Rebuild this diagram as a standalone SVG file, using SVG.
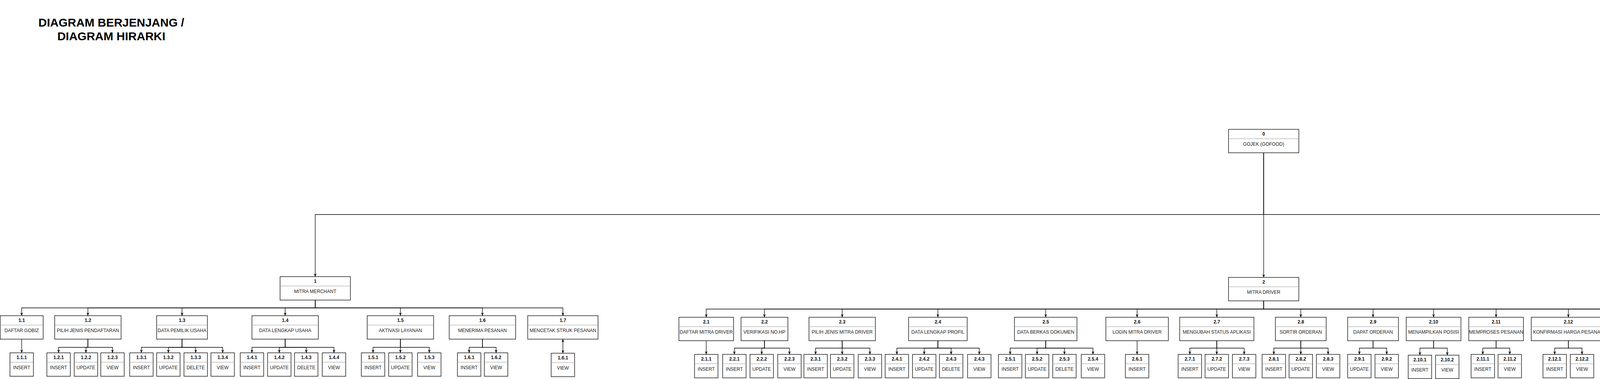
<svg xmlns="http://www.w3.org/2000/svg" width="6519" height="970" viewBox="0 0 6519 970">
<style>
.b{fill:#fff;stroke:#000;stroke-width:1.3}
.d{stroke:#999;stroke-width:1}
.n{font-family:'Liberation Sans',Arial,sans-serif;font-size:12px;font-weight:bold;text-anchor:middle;fill:#111}
.l{font-family:'Liberation Sans',Arial,sans-serif;font-size:12px;text-anchor:middle;fill:#222}
.t{font-family:'Liberation Sans',Arial,sans-serif;font-size:30px;font-weight:bold;text-anchor:middle;fill:#000}
.e{fill:none;stroke:#000;stroke-width:1.3;marker-end:url(#a)}
</style>
<defs>
<marker id="a" viewBox="0 0 8 7" refX="8" refY="3.5" markerWidth="8" markerHeight="7" markerUnits="userSpaceOnUse" orient="auto-start-reverse"><path d="M0,0L8,3.5L0,7L2.4,3.5Z" fill="#000"/></marker>
</defs>
<rect width="6519" height="970" fill="#fff"/>
<g id="title"><text class="t" x="285" y="68">DIAGRAM BERJENJANG /</text><text class="t" x="285" y="103">DIAGRAM HIRARKI</text></g>

<g id="edges">
<path class="e" d="M3235,390V549H807V708"/>
<path class="e" d="M3235,390V710"/>
<path class="e" d="M3235,390V549H5761V708"/>
<path class="e" d="M807,768V788H55.5V808"/>
<path class="e" d="M807,768V788H225V808"/>
<path class="e" d="M807,768V788H466V808"/>
<path class="e" d="M807,768V788H730V808"/>
<path class="e" d="M807,768V788H1025V808"/>
<path class="e" d="M807,768V788H1235V808"/>
<path class="e" d="M807,768V788H1441V808"/>
<path class="e" d="M55.5,868V903"/>
<path class="e" d="M225,868V889H150V903"/>
<path class="e" d="M225,868V889H220V903"/>
<path class="e" d="M225,868V889H288V903"/>
<path class="e" d="M466,868V889H362V903"/>
<path class="e" d="M466,868V889H431V903"/>
<path class="e" d="M466,868V889H501V903"/>
<path class="e" d="M466,868V889H570V903"/>
<path class="e" d="M730,868V889H645V903"/>
<path class="e" d="M730,868V889H715V903"/>
<path class="e" d="M730,868V889H784V903"/>
<path class="e" d="M730,868V889H855V903"/>
<path class="e" d="M1025,868V889H955V903"/>
<path class="e" d="M1025,868V903"/>
<path class="e" d="M1025,868V889H1099V903"/>
<path class="e" d="M1235,868V889H1201V903"/>
<path class="e" d="M1235,868V889H1270V903"/>
<path class="e" d="M1441,868V904" marker-start="url(#a)"/>
<path class="e" d="M3235,770V791H1808V812"/>
<path class="e" d="M3235,770V791H1957V812"/>
<path class="e" d="M3235,770V791H2156V812"/>
<path class="e" d="M3235,770V791H2401V812"/>
<path class="e" d="M3235,770V791H2677V812"/>
<path class="e" d="M3235,770V791H2911V812"/>
<path class="e" d="M3235,770V791H3115V812"/>
<path class="e" d="M3235,770V791H3330V812"/>
<path class="e" d="M3235,770V791H3515V812"/>
<path class="e" d="M3235,770V791H3670V812"/>
<path class="e" d="M3235,770V791H3830V812"/>
<path class="e" d="M3235,770V791H4015V812"/>
<path class="e" d="M3235,770V791H4225V812"/>
<path class="e" d="M3235,770V791H4420V812"/>
<path class="e" d="M3235,770V791H4595V812"/>
<path class="e" d="M1808,872V907"/>
<path class="e" d="M1957,872V891H1880V907"/>
<path class="e" d="M1957,872V891H1950V907"/>
<path class="e" d="M1957,872V891H2021V907"/>
<path class="e" d="M2156,872V891H2088V907"/>
<path class="e" d="M2156,872V907"/>
<path class="e" d="M2156,872V891H2227V907"/>
<path class="e" d="M2401,872V891H2296V907"/>
<path class="e" d="M2401,872V891H2366V907"/>
<path class="e" d="M2401,872V891H2435V907"/>
<path class="e" d="M2401,872V891H2507V907"/>
<path class="e" d="M2677,872V891H2586V907"/>
<path class="e" d="M2677,872V891H2655V907"/>
<path class="e" d="M2677,872V891H2725V907"/>
<path class="e" d="M2677,872V891H2798V907"/>
<path class="e" d="M2911,872V907"/>
<path class="e" d="M3115,872V891H3046V907"/>
<path class="e" d="M3115,872V907"/>
<path class="e" d="M3115,872V891H3185V907"/>
<path class="e" d="M3330,872V891H3261V907"/>
<path class="e" d="M3330,872V907"/>
<path class="e" d="M3330,872V891H3400V907"/>
<path class="e" d="M3515,872V891H3480V907"/>
<path class="e" d="M3515,872V891H3550V907"/>
<path class="e" d="M3670,872V891H3635V909"/>
<path class="e" d="M3670,872V891H3705V909"/>
<path class="e" d="M3830,872V891H3796V907"/>
<path class="e" d="M3830,872V891H3865V907"/>
<path class="e" d="M4015,872V891H3980V907"/>
<path class="e" d="M4015,872V891H4050V907"/>
<path class="e" d="M4225,872V891H4155V907"/>
<path class="e" d="M4225,872V907"/>
<path class="e" d="M4225,872V891H4295V907"/>
<path class="e" d="M4420,872V891H4385V907"/>
<path class="e" d="M4420,872V891H4455V907"/>
<path class="e" d="M4595,872V891H4560V907"/>
<path class="e" d="M4595,872V891H4630V907"/>
<path class="e" d="M5761,768V791H5095V814"/>
<path class="e" d="M5761,768V791H5310V814"/>
<path class="e" d="M5761,768V791H5580V814"/>
<path class="e" d="M5761,768V791H5836V814"/>
<path class="e" d="M5761,768V791H6073V814"/>
<path class="e" d="M5761,768V791H6308V814"/>
<path class="e" d="M5761,768V791H6483V814"/>
<path class="e" d="M5095,874V892H5062V909"/>
<path class="e" d="M5095,874V892H5131V909"/>
<path class="e" d="M5310,874V892H5204V909"/>
<path class="e" d="M5310,874V892H5274V909"/>
<path class="e" d="M5310,874V892H5345V909"/>
<path class="e" d="M5310,874V892H5416V909"/>
<path class="e" d="M5580,874V892H5490V909"/>
<path class="e" d="M5580,874V892H5559V909"/>
<path class="e" d="M5580,874V892H5629V909"/>
<path class="e" d="M5580,874V892H5701V909"/>
<path class="e" d="M5836,874V892H5775V909"/>
<path class="e" d="M5836,874V892H5844V909"/>
<path class="e" d="M5836,874V892H5915V909"/>
<path class="e" d="M6073,874V892H6004V909"/>
<path class="e" d="M6073,874V909"/>
<path class="e" d="M6073,874V892H6143V909"/>
<path class="e" d="M6308,874V892H6223V909"/>
<path class="e" d="M6308,874V892H6292V909"/>
<path class="e" d="M6308,874V892H6362V909"/>
<path class="e" d="M6483,874V909"/>
</g>

<g id="n0"><rect class="b" x="3145" y="331" width="180" height="60"/><line class="d" x1="3145" y1="355" x2="3325" y2="355"/><text class="n" x="3235" y="346.5">0</text><text class="l" x="3235" y="373">GOJEK (GOFOOD)</text></g>
<g id="n1"><rect class="b" x="717" y="708" width="180" height="60"/><line class="d" x1="717" y1="732" x2="897" y2="732"/><text class="n" x="807" y="723.5">1</text><text class="l" x="807" y="750">MITRA MERCHANT</text></g>
<g id="n2"><rect class="b" x="3145" y="710" width="180" height="60"/><line class="d" x1="3145" y1="734" x2="3325" y2="734"/><text class="n" x="3235" y="725.5">2</text><text class="l" x="3235" y="752">MITRA DRIVER</text></g>
<g id="n3"><rect class="b" x="5671" y="708" width="180" height="60"/><line class="d" x1="5671" y1="732" x2="5851" y2="732"/><text class="n" x="5761" y="723.5">3</text><text class="l" x="5761" y="750">PEMBELI/CUSTOMER</text></g>

<g id="n1-1"><rect class="b" x="0.5" y="808" width="110" height="60"/><line class="d" x1="0.5" y1="832" x2="110.5" y2="832"/><text class="n" x="55.5" y="823.5">1.1</text><text class="l" x="55.5" y="850">DAFTAR GOBIZ</text></g>
<g id="n1-2"><rect class="b" x="140" y="808" width="170" height="60"/><line class="d" x1="140" y1="832" x2="310" y2="832"/><text class="n" x="225" y="823.5">1.2</text><text class="l" x="225" y="850">PILIH JENIS PENDAFTARAN</text></g>
<g id="n1-3"><rect class="b" x="401" y="808" width="130" height="60"/><line class="d" x1="401" y1="832" x2="531" y2="832"/><text class="n" x="466" y="823.5">1.3</text><text class="l" x="466" y="850">DATA PEMILIK USAHA</text></g>
<g id="n1-4"><rect class="b" x="645" y="808" width="170" height="60"/><line class="d" x1="645" y1="832" x2="815" y2="832"/><text class="n" x="730" y="823.5">1.4</text><text class="l" x="730" y="850">DATA LENGKAP USAHA</text></g>
<g id="n1-5"><rect class="b" x="940" y="808" width="170" height="60"/><line class="d" x1="940" y1="832" x2="1110" y2="832"/><text class="n" x="1025" y="823.5">1.5</text><text class="l" x="1025" y="850">AKTIVASI LAYANAN</text></g>
<g id="n1-6"><rect class="b" x="1150" y="808" width="170" height="60"/><line class="d" x1="1150" y1="832" x2="1320" y2="832"/><text class="n" x="1235" y="823.5">1.6</text><text class="l" x="1235" y="850">MENERIMA PESANAN</text></g>
<g id="n1-7"><rect class="b" x="1351" y="808" width="180" height="60"/><line class="d" x1="1351" y1="832" x2="1531" y2="832"/><text class="n" x="1441" y="823.5">1.7</text><text class="l" x="1441" y="850">MENCETAK STRUK PESANAN</text></g>

<g id="n1-1-1"><rect class="b" x="25.5" y="903" width="60" height="60"/><line class="d" x1="25.5" y1="927" x2="85.5" y2="927"/><text class="n" x="55.5" y="918.5">1.1.1</text><text class="l" x="55.5" y="945">INSERT</text></g>
<g id="n1-2-1"><rect class="b" x="120" y="903" width="60" height="60"/><line class="d" x1="120" y1="927" x2="180" y2="927"/><text class="n" x="150" y="918.5">1.2.1</text><text class="l" x="150" y="945">INSERT</text></g>
<g id="n1-2-2"><rect class="b" x="190" y="903" width="60" height="60"/><line class="d" x1="190" y1="927" x2="250" y2="927"/><text class="n" x="220" y="918.5">1.2.2</text><text class="l" x="220" y="945">UPDATE</text></g>
<g id="n1-2-3"><rect class="b" x="258" y="903" width="60" height="60"/><line class="d" x1="258" y1="927" x2="318" y2="927"/><text class="n" x="288" y="918.5">1.2.3</text><text class="l" x="288" y="945">VIEW</text></g>
<g id="n1-3-1"><rect class="b" x="332" y="903" width="60" height="60"/><line class="d" x1="332" y1="927" x2="392" y2="927"/><text class="n" x="362" y="918.5">1.3.1</text><text class="l" x="362" y="945">INSERT</text></g>
<g id="n1-3-2"><rect class="b" x="401" y="903" width="60" height="60"/><line class="d" x1="401" y1="927" x2="461" y2="927"/><text class="n" x="431" y="918.5">1.3.2</text><text class="l" x="431" y="945">UPDATE</text></g>
<g id="n1-3-3"><rect class="b" x="471" y="903" width="60" height="60"/><line class="d" x1="471" y1="927" x2="531" y2="927"/><text class="n" x="501" y="918.5">1.3.3</text><text class="l" x="501" y="945">DELETE</text></g>
<g id="n1-3-4"><rect class="b" x="540" y="903" width="60" height="60"/><line class="d" x1="540" y1="927" x2="600" y2="927"/><text class="n" x="570" y="918.5">1.3.4</text><text class="l" x="570" y="945">VIEW</text></g>
<g id="n1-4-1"><rect class="b" x="615" y="903" width="60" height="60"/><line class="d" x1="615" y1="927" x2="675" y2="927"/><text class="n" x="645" y="918.5">1.4.1</text><text class="l" x="645" y="945">INSERT</text></g>
<g id="n1-4-2"><rect class="b" x="685" y="903" width="60" height="60"/><line class="d" x1="685" y1="927" x2="745" y2="927"/><text class="n" x="715" y="918.5">1.4.2</text><text class="l" x="715" y="945">UPDATE</text></g>
<g id="n1-4-3"><rect class="b" x="754" y="903" width="60" height="60"/><line class="d" x1="754" y1="927" x2="814" y2="927"/><text class="n" x="784" y="918.5">1.4.3</text><text class="l" x="784" y="945">DELETE</text></g>
<g id="n1-4-4"><rect class="b" x="825" y="903" width="60" height="60"/><line class="d" x1="825" y1="927" x2="885" y2="927"/><text class="n" x="855" y="918.5">1.4.4</text><text class="l" x="855" y="945">VIEW</text></g>
<g id="n1-5-1"><rect class="b" x="925" y="903" width="60" height="60"/><line class="d" x1="925" y1="927" x2="985" y2="927"/><text class="n" x="955" y="918.5">1.5.1</text><text class="l" x="955" y="945">INSERT</text></g>
<g id="n1-5-2"><rect class="b" x="995" y="903" width="60" height="60"/><line class="d" x1="995" y1="927" x2="1055" y2="927"/><text class="n" x="1025" y="918.5">1.5.2</text><text class="l" x="1025" y="945">UPDATE</text></g>
<g id="n1-5-3"><rect class="b" x="1069" y="903" width="60" height="60"/><line class="d" x1="1069" y1="927" x2="1129" y2="927"/><text class="n" x="1099" y="918.5">1.5.3</text><text class="l" x="1099" y="945">VIEW</text></g>
<g id="n1-6-1"><rect class="b" x="1171" y="903" width="60" height="60"/><line class="d" x1="1171" y1="927" x2="1231" y2="927"/><text class="n" x="1201" y="918.5">1.6.1</text><text class="l" x="1201" y="945">INSERT</text></g>
<g id="n1-6-2"><rect class="b" x="1240" y="903" width="60" height="60"/><line class="d" x1="1240" y1="927" x2="1300" y2="927"/><text class="n" x="1270" y="918.5">1.6.2</text><text class="l" x="1270" y="945">VIEW</text></g>
<g id="n1-7-1"><rect class="b" x="1411" y="904" width="60" height="60"/><line class="d" x1="1411" y1="928" x2="1471" y2="928"/><text class="n" x="1441" y="919.5">1.6.1</text><text class="l" x="1441" y="946">VIEW</text></g>

<g id="n2-1"><rect class="b" x="1738" y="812" width="140" height="60"/><line class="d" x1="1738" y1="836" x2="1878" y2="836"/><text class="n" x="1808" y="827.5">2.1</text><text class="l" x="1808" y="854">DAFTAR MITRA DRIVER</text></g>
<g id="n2-2"><rect class="b" x="1897" y="812" width="120" height="60"/><line class="d" x1="1897" y1="836" x2="2017" y2="836"/><text class="n" x="1957" y="827.5">2.2</text><text class="l" x="1957" y="854">VERIFIKASI NO.HP</text></g>
<g id="n2-3"><rect class="b" x="2071" y="812" width="170" height="60"/><line class="d" x1="2071" y1="836" x2="2241" y2="836"/><text class="n" x="2156" y="827.5">2.3</text><text class="l" x="2156" y="854">PILIH JENIS MITRA DRIVER</text></g>
<g id="n2-4"><rect class="b" x="2326" y="812" width="150" height="60"/><line class="d" x1="2326" y1="836" x2="2476" y2="836"/><text class="n" x="2401" y="827.5">2.4</text><text class="l" x="2401" y="854">DATA LENGKAP PROFIL</text></g>
<g id="n2-5"><rect class="b" x="2597" y="812" width="160" height="60"/><line class="d" x1="2597" y1="836" x2="2757" y2="836"/><text class="n" x="2677" y="827.5">2.5</text><text class="l" x="2677" y="854">DATA BERKAS DOKUMEN</text></g>
<g id="n2-6"><rect class="b" x="2831" y="812" width="160" height="60"/><line class="d" x1="2831" y1="836" x2="2991" y2="836"/><text class="n" x="2911" y="827.5">2.6</text><text class="l" x="2911" y="854">LOGIN MITRA DRIVER</text></g>
<g id="n2-7"><rect class="b" x="3020" y="812" width="190" height="60"/><line class="d" x1="3020" y1="836" x2="3210" y2="836"/><text class="n" x="3115" y="827.5">2.7</text><text class="l" x="3115" y="854">MENGUBAH STATUS APLIKASI</text></g>
<g id="n2-8"><rect class="b" x="3265" y="812" width="130" height="60"/><line class="d" x1="3265" y1="836" x2="3395" y2="836"/><text class="n" x="3330" y="827.5">2.8</text><text class="l" x="3330" y="854">SORTIR ORDERAN</text></g>
<g id="n2-9"><rect class="b" x="3450" y="812" width="130" height="60"/><line class="d" x1="3450" y1="836" x2="3580" y2="836"/><text class="n" x="3515" y="827.5">2.9</text><text class="l" x="3515" y="854">DAPAT ORDERAN</text></g>
<g id="n2-10"><rect class="b" x="3600" y="812" width="140" height="60"/><line class="d" x1="3600" y1="836" x2="3740" y2="836"/><text class="n" x="3670" y="827.5">2.10</text><text class="l" x="3670" y="854">MENAMPILKAN POSISI</text></g>
<g id="n2-11"><rect class="b" x="3760" y="812" width="140" height="60"/><line class="d" x1="3760" y1="836" x2="3900" y2="836"/><text class="n" x="3830" y="827.5">2.11</text><text class="l" x="3830" y="854">MEMPROSES PESANAN</text></g>
<g id="n2-12"><rect class="b" x="3920" y="812" width="190" height="60"/><line class="d" x1="3920" y1="836" x2="4110" y2="836"/><text class="n" x="4015" y="827.5">2.12</text><text class="l" x="4015" y="854">KONFIRMASI HARGA PESANAN</text></g>
<g id="n2-13"><rect class="b" x="4130" y="812" width="190" height="60"/><line class="d" x1="4130" y1="836" x2="4320" y2="836"/><text class="n" x="4225" y="827.5">2.13</text><text class="l" x="4225" y="854">VERIFIKASI HARGA PESANAN</text></g>
<g id="n2-14"><rect class="b" x="4350" y="812" width="140" height="60"/><line class="d" x1="4350" y1="836" x2="4490" y2="836"/><text class="n" x="4420" y="827.5">2.14</text><text class="l" x="4420" y="854">MENGANTAR PESANAN</text></g>
<g id="n2-15"><rect class="b" x="4510" y="812" width="170" height="60"/><line class="d" x1="4510" y1="836" x2="4680" y2="836"/><text class="n" x="4595" y="827.5">2.15</text><text class="l" x="4595" y="854">MENYELESAIKAN ORDERAN</text></g>

<g id="n2-1-1"><rect class="b" x="1778" y="907" width="60" height="60"/><line class="d" x1="1778" y1="931" x2="1838" y2="931"/><text class="n" x="1808" y="922.5">2.1.1</text><text class="l" x="1808" y="949">INSERT</text></g>
<g id="n2-2-1"><rect class="b" x="1850" y="907" width="60" height="60"/><line class="d" x1="1850" y1="931" x2="1910" y2="931"/><text class="n" x="1880" y="922.5">2.2.1</text><text class="l" x="1880" y="949">INSERT</text></g>
<g id="n2-2-2"><rect class="b" x="1920" y="907" width="60" height="60"/><line class="d" x1="1920" y1="931" x2="1980" y2="931"/><text class="n" x="1950" y="922.5">2.2.2</text><text class="l" x="1950" y="949">UPDATE</text></g>
<g id="n2-2-3"><rect class="b" x="1991" y="907" width="60" height="60"/><line class="d" x1="1991" y1="931" x2="2051" y2="931"/><text class="n" x="2021" y="922.5">2.2.3</text><text class="l" x="2021" y="949">VIEW</text></g>
<g id="n2-3-1"><rect class="b" x="2058" y="907" width="60" height="60"/><line class="d" x1="2058" y1="931" x2="2118" y2="931"/><text class="n" x="2088" y="922.5">2.3.1</text><text class="l" x="2088" y="949">INSERT</text></g>
<g id="n2-3-2"><rect class="b" x="2126" y="907" width="60" height="60"/><line class="d" x1="2126" y1="931" x2="2186" y2="931"/><text class="n" x="2156" y="922.5">2.3.2</text><text class="l" x="2156" y="949">UPDATE</text></g>
<g id="n2-3-3"><rect class="b" x="2197" y="907" width="60" height="60"/><line class="d" x1="2197" y1="931" x2="2257" y2="931"/><text class="n" x="2227" y="922.5">2.3.3</text><text class="l" x="2227" y="949">VIEW</text></g>
<g id="n2-4-1"><rect class="b" x="2266" y="907" width="60" height="60"/><line class="d" x1="2266" y1="931" x2="2326" y2="931"/><text class="n" x="2296" y="922.5">2.4.1</text><text class="l" x="2296" y="949">INSERT</text></g>
<g id="n2-4-2"><rect class="b" x="2336" y="907" width="60" height="60"/><line class="d" x1="2336" y1="931" x2="2396" y2="931"/><text class="n" x="2366" y="922.5">2.4.2</text><text class="l" x="2366" y="949">UPDATE</text></g>
<g id="n2-4-3"><rect class="b" x="2405" y="907" width="60" height="60"/><line class="d" x1="2405" y1="931" x2="2465" y2="931"/><text class="n" x="2435" y="922.5">2.4.3</text><text class="l" x="2435" y="949">DELETE</text></g>
<g id="n2-4-4"><rect class="b" x="2477" y="907" width="60" height="60"/><line class="d" x1="2477" y1="931" x2="2537" y2="931"/><text class="n" x="2507" y="922.5">2.4.3</text><text class="l" x="2507" y="949">VIEW</text></g>
<g id="n2-5-1"><rect class="b" x="2556" y="907" width="60" height="60"/><line class="d" x1="2556" y1="931" x2="2616" y2="931"/><text class="n" x="2586" y="922.5">2.5.1</text><text class="l" x="2586" y="949">INSERT</text></g>
<g id="n2-5-2"><rect class="b" x="2625" y="907" width="60" height="60"/><line class="d" x1="2625" y1="931" x2="2685" y2="931"/><text class="n" x="2655" y="922.5">2.5.2</text><text class="l" x="2655" y="949">UPDATE</text></g>
<g id="n2-5-3"><rect class="b" x="2695" y="907" width="60" height="60"/><line class="d" x1="2695" y1="931" x2="2755" y2="931"/><text class="n" x="2725" y="922.5">2.5.3</text><text class="l" x="2725" y="949">DELETE</text></g>
<g id="n2-5-4"><rect class="b" x="2768" y="907" width="60" height="60"/><line class="d" x1="2768" y1="931" x2="2828" y2="931"/><text class="n" x="2798" y="922.5">2.5.4</text><text class="l" x="2798" y="949">VIEW</text></g>
<g id="n2-6-1"><rect class="b" x="2881" y="907" width="60" height="60"/><line class="d" x1="2881" y1="931" x2="2941" y2="931"/><text class="n" x="2911" y="922.5">2.6.1</text><text class="l" x="2911" y="949">INSERT</text></g>
<g id="n2-7-1"><rect class="b" x="3016" y="907" width="60" height="60"/><line class="d" x1="3016" y1="931" x2="3076" y2="931"/><text class="n" x="3046" y="922.5">2.7.1</text><text class="l" x="3046" y="949">INSERT</text></g>
<g id="n2-7-2"><rect class="b" x="3085" y="907" width="60" height="60"/><line class="d" x1="3085" y1="931" x2="3145" y2="931"/><text class="n" x="3115" y="922.5">2.7.2</text><text class="l" x="3115" y="949">UPDATE</text></g>
<g id="n2-7-3"><rect class="b" x="3155" y="907" width="60" height="60"/><line class="d" x1="3155" y1="931" x2="3215" y2="931"/><text class="n" x="3185" y="922.5">2.7.3</text><text class="l" x="3185" y="949">VIEW</text></g>
<g id="n2-8-1"><rect class="b" x="3231" y="907" width="60" height="60"/><line class="d" x1="3231" y1="931" x2="3291" y2="931"/><text class="n" x="3261" y="922.5">2.8.1</text><text class="l" x="3261" y="949">INSERT</text></g>
<g id="n2-8-2"><rect class="b" x="3300" y="907" width="60" height="60"/><line class="d" x1="3300" y1="931" x2="3360" y2="931"/><text class="n" x="3330" y="922.5">2.8.2</text><text class="l" x="3330" y="949">UPDATE</text></g>
<g id="n2-8-3"><rect class="b" x="3370" y="907" width="60" height="60"/><line class="d" x1="3370" y1="931" x2="3430" y2="931"/><text class="n" x="3400" y="922.5">2.8.3</text><text class="l" x="3400" y="949">VIEW</text></g>
<g id="n2-9-1"><rect class="b" x="3450" y="907" width="60" height="60"/><line class="d" x1="3450" y1="931" x2="3510" y2="931"/><text class="n" x="3480" y="922.5">2.9.1</text><text class="l" x="3480" y="949">UPDATE</text></g>
<g id="n2-9-2"><rect class="b" x="3520" y="907" width="60" height="60"/><line class="d" x1="3520" y1="931" x2="3580" y2="931"/><text class="n" x="3550" y="922.5">2.9.2</text><text class="l" x="3550" y="949">VIEW</text></g>
<g id="n2-10-1"><rect class="b" x="3605" y="909" width="60" height="60"/><line class="d" x1="3605" y1="933" x2="3665" y2="933"/><text class="n" x="3635" y="924.5">2.10.1</text><text class="l" x="3635" y="951">INSERT</text></g>
<g id="n2-10-2"><rect class="b" x="3675" y="909" width="60" height="60"/><line class="d" x1="3675" y1="933" x2="3735" y2="933"/><text class="n" x="3705" y="924.5">2.10.2</text><text class="l" x="3705" y="951">VIEW</text></g>
<g id="n2-11-1"><rect class="b" x="3766" y="907" width="60" height="60"/><line class="d" x1="3766" y1="931" x2="3826" y2="931"/><text class="n" x="3796" y="922.5">2.11.1</text><text class="l" x="3796" y="949">INSERT</text></g>
<g id="n2-11-2"><rect class="b" x="3835" y="907" width="60" height="60"/><line class="d" x1="3835" y1="931" x2="3895" y2="931"/><text class="n" x="3865" y="922.5">2.11.2</text><text class="l" x="3865" y="949">VIEW</text></g>
<g id="n2-12-1"><rect class="b" x="3950" y="907" width="60" height="60"/><line class="d" x1="3950" y1="931" x2="4010" y2="931"/><text class="n" x="3980" y="922.5">2.12.1</text><text class="l" x="3980" y="949">INSERT</text></g>
<g id="n2-12-2"><rect class="b" x="4020" y="907" width="60" height="60"/><line class="d" x1="4020" y1="931" x2="4080" y2="931"/><text class="n" x="4050" y="922.5">2.12.2</text><text class="l" x="4050" y="949">VIEW</text></g>
<g id="n2-13-1"><rect class="b" x="4125" y="907" width="60" height="60"/><line class="d" x1="4125" y1="931" x2="4185" y2="931"/><text class="n" x="4155" y="922.5">2.13.1</text><text class="l" x="4155" y="949">INSERT</text></g>
<g id="n2-13-2"><rect class="b" x="4195" y="907" width="60" height="60"/><line class="d" x1="4195" y1="931" x2="4255" y2="931"/><text class="n" x="4225" y="922.5">2.13.2</text><text class="l" x="4225" y="949">UPDATE</text></g>
<g id="n2-13-3"><rect class="b" x="4265" y="907" width="60" height="60"/><line class="d" x1="4265" y1="931" x2="4325" y2="931"/><text class="n" x="4295" y="922.5">2.13.3</text><text class="l" x="4295" y="949">VIEW</text></g>
<g id="n2-14-1"><rect class="b" x="4355" y="907" width="60" height="60"/><line class="d" x1="4355" y1="931" x2="4415" y2="931"/><text class="n" x="4385" y="922.5">2.14.1</text><text class="l" x="4385" y="949">INSERT</text></g>
<g id="n2-14-2"><rect class="b" x="4425" y="907" width="60" height="60"/><line class="d" x1="4425" y1="931" x2="4485" y2="931"/><text class="n" x="4455" y="922.5">2.14.2</text><text class="l" x="4455" y="949">VIEW</text></g>
<g id="n2-15-1"><rect class="b" x="4530" y="907" width="60" height="60"/><line class="d" x1="4530" y1="931" x2="4590" y2="931"/><text class="n" x="4560" y="922.5">2.15.1</text><text class="l" x="4560" y="949">INSERT</text></g>
<g id="n2-15-2"><rect class="b" x="4600" y="907" width="60" height="60"/><line class="d" x1="4600" y1="931" x2="4660" y2="931"/><text class="n" x="4630" y="922.5">2.15.2</text><text class="l" x="4630" y="949">VIEW</text></g>

<g id="n3-1"><rect class="b" x="5020" y="814" width="150" height="60"/><line class="d" x1="5020" y1="838" x2="5170" y2="838"/><text class="n" x="5095" y="829.5">3.1</text><text class="l" x="5095" y="856">PILIH LAYANAN GOFOOD</text></g>
<g id="n3-2"><rect class="b" x="5255" y="814" width="110" height="60"/><line class="d" x1="5255" y1="838" x2="5365" y2="838"/><text class="n" x="5310" y="829.5">3.2</text><text class="l" x="5310" y="856">PILIH MERCHANT</text></g>
<g id="n3-3"><rect class="b" x="5500" y="814" width="160" height="60"/><line class="d" x1="5500" y1="838" x2="5660" y2="838"/><text class="n" x="5580" y="829.5">3.3</text><text class="l" x="5580" y="856">PILIH MAKANAN/MINUMAN</text></g>
<g id="n3-4"><rect class="b" x="5796" y="814" width="80" height="60"/><line class="d" x1="5796" y1="838" x2="5876" y2="838"/><text class="n" x="5836" y="829.5">3.4</text><text class="l" x="5836" y="856">CHECKOUT</text></g>
<g id="n3-5"><rect class="b" x="5983" y="814" width="180" height="60"/><line class="d" x1="5983" y1="838" x2="6163" y2="838"/><text class="n" x="6073" y="829.5">3.5</text><text class="l" x="6073" y="856">PILIH METODE PEMBAYARAN</text></g>
<g id="n3-6"><rect class="b" x="6218" y="814" width="180" height="60"/><line class="d" x1="6218" y1="838" x2="6398" y2="838"/><text class="n" x="6308" y="829.5">3.6</text><text class="l" x="6308" y="856">PILIH VOUCHER</text></g>
<g id="n3-7"><rect class="b" x="6448" y="814" width="70" height="60"/><line class="d" x1="6448" y1="838" x2="6518" y2="838"/><text class="n" x="6483" y="829.5">3.7</text><text class="l" x="6483" y="856">PESANAN</text></g>

<g id="n3-1-1"><rect class="b" x="5032" y="909" width="60" height="60"/><line class="d" x1="5032" y1="933" x2="5092" y2="933"/><text class="n" x="5062" y="924.5">3.1.1</text><text class="l" x="5062" y="951">INSERT</text></g>
<g id="n3-1-2"><rect class="b" x="5101" y="909" width="60" height="60"/><line class="d" x1="5101" y1="933" x2="5161" y2="933"/><text class="n" x="5131" y="924.5">3.1.2</text><text class="l" x="5131" y="951">VIEW</text></g>
<g id="n3-2-1"><rect class="b" x="5174" y="909" width="60" height="60"/><line class="d" x1="5174" y1="933" x2="5234" y2="933"/><text class="n" x="5204" y="924.5">3.2.1</text><text class="l" x="5204" y="951">INSERT</text></g>
<g id="n3-2-2"><rect class="b" x="5244" y="909" width="60" height="60"/><line class="d" x1="5244" y1="933" x2="5304" y2="933"/><text class="n" x="5274" y="924.5">3.2.2</text><text class="l" x="5274" y="951">UPDATE</text></g>
<g id="n3-2-3"><rect class="b" x="5315" y="909" width="60" height="60"/><line class="d" x1="5315" y1="933" x2="5375" y2="933"/><text class="n" x="5345" y="924.5">3.2.3</text><text class="l" x="5345" y="951">DELETE</text></g>
<g id="n3-2-4"><rect class="b" x="5386" y="909" width="60" height="60"/><line class="d" x1="5386" y1="933" x2="5446" y2="933"/><text class="n" x="5416" y="924.5">3.2.4</text><text class="l" x="5416" y="951">VIEW</text></g>
<g id="n3-3-1"><rect class="b" x="5460" y="909" width="60" height="60"/><line class="d" x1="5460" y1="933" x2="5520" y2="933"/><text class="n" x="5490" y="924.5">3.3.1</text><text class="l" x="5490" y="951">INSERT</text></g>
<g id="n3-3-2"><rect class="b" x="5529" y="909" width="60" height="60"/><line class="d" x1="5529" y1="933" x2="5589" y2="933"/><text class="n" x="5559" y="924.5">3.3.2</text><text class="l" x="5559" y="951">UPDATE</text></g>
<g id="n3-3-3"><rect class="b" x="5599" y="909" width="60" height="60"/><line class="d" x1="5599" y1="933" x2="5659" y2="933"/><text class="n" x="5629" y="924.5">3.3.3</text><text class="l" x="5629" y="951">DELETE</text></g>
<g id="n3-3-4"><rect class="b" x="5671" y="909" width="60" height="60"/><line class="d" x1="5671" y1="933" x2="5731" y2="933"/><text class="n" x="5701" y="924.5">3.3.4</text><text class="l" x="5701" y="951">VIEW</text></g>
<g id="n3-4-1"><rect class="b" x="5745" y="909" width="60" height="60"/><line class="d" x1="5745" y1="933" x2="5805" y2="933"/><text class="n" x="5775" y="924.5">3.4.1</text><text class="l" x="5775" y="951">INSERT</text></g>
<g id="n3-4-2"><rect class="b" x="5814" y="909" width="60" height="60"/><line class="d" x1="5814" y1="933" x2="5874" y2="933"/><text class="n" x="5844" y="924.5">3.4.2</text><text class="l" x="5844" y="951">UPDATE</text></g>
<g id="n3-4-3"><rect class="b" x="5885" y="909" width="60" height="60"/><line class="d" x1="5885" y1="933" x2="5945" y2="933"/><text class="n" x="5915" y="924.5">3.4.3</text><text class="l" x="5915" y="951">VIEW</text></g>
<g id="n3-5-1"><rect class="b" x="5974" y="909" width="60" height="60"/><line class="d" x1="5974" y1="933" x2="6034" y2="933"/><text class="n" x="6004" y="924.5">3.5.1</text><text class="l" x="6004" y="951">INSERT</text></g>
<g id="n3-5-2"><rect class="b" x="6043" y="909" width="60" height="60"/><line class="d" x1="6043" y1="933" x2="6103" y2="933"/><text class="n" x="6073" y="924.5">3.5.2</text><text class="l" x="6073" y="951">UPDATE</text></g>
<g id="n3-5-3"><rect class="b" x="6113" y="909" width="60" height="60"/><line class="d" x1="6113" y1="933" x2="6173" y2="933"/><text class="n" x="6143" y="924.5">3.5.3</text><text class="l" x="6143" y="951">VIEW</text></g>
<g id="n3-6-1"><rect class="b" x="6193" y="909" width="60" height="60"/><line class="d" x1="6193" y1="933" x2="6253" y2="933"/><text class="n" x="6223" y="924.5">3.6.1</text><text class="l" x="6223" y="951">INSERT</text></g>
<g id="n3-6-2"><rect class="b" x="6262" y="909" width="60" height="60"/><line class="d" x1="6262" y1="933" x2="6322" y2="933"/><text class="n" x="6292" y="924.5">3.6.2</text><text class="l" x="6292" y="951">UPDATE</text></g>
<g id="n3-6-3"><rect class="b" x="6332" y="909" width="60" height="60"/><line class="d" x1="6332" y1="933" x2="6392" y2="933"/><text class="n" x="6362" y="924.5">3.6.3</text><text class="l" x="6362" y="951">VIEW</text></g>
<g id="n3-7-1"><rect class="b" x="6453" y="909" width="60" height="60"/><line class="d" x1="6453" y1="933" x2="6513" y2="933"/><text class="n" x="6483" y="924.5">3.7.1</text><text class="l" x="6483" y="951">VIEW</text></g>
</svg>
